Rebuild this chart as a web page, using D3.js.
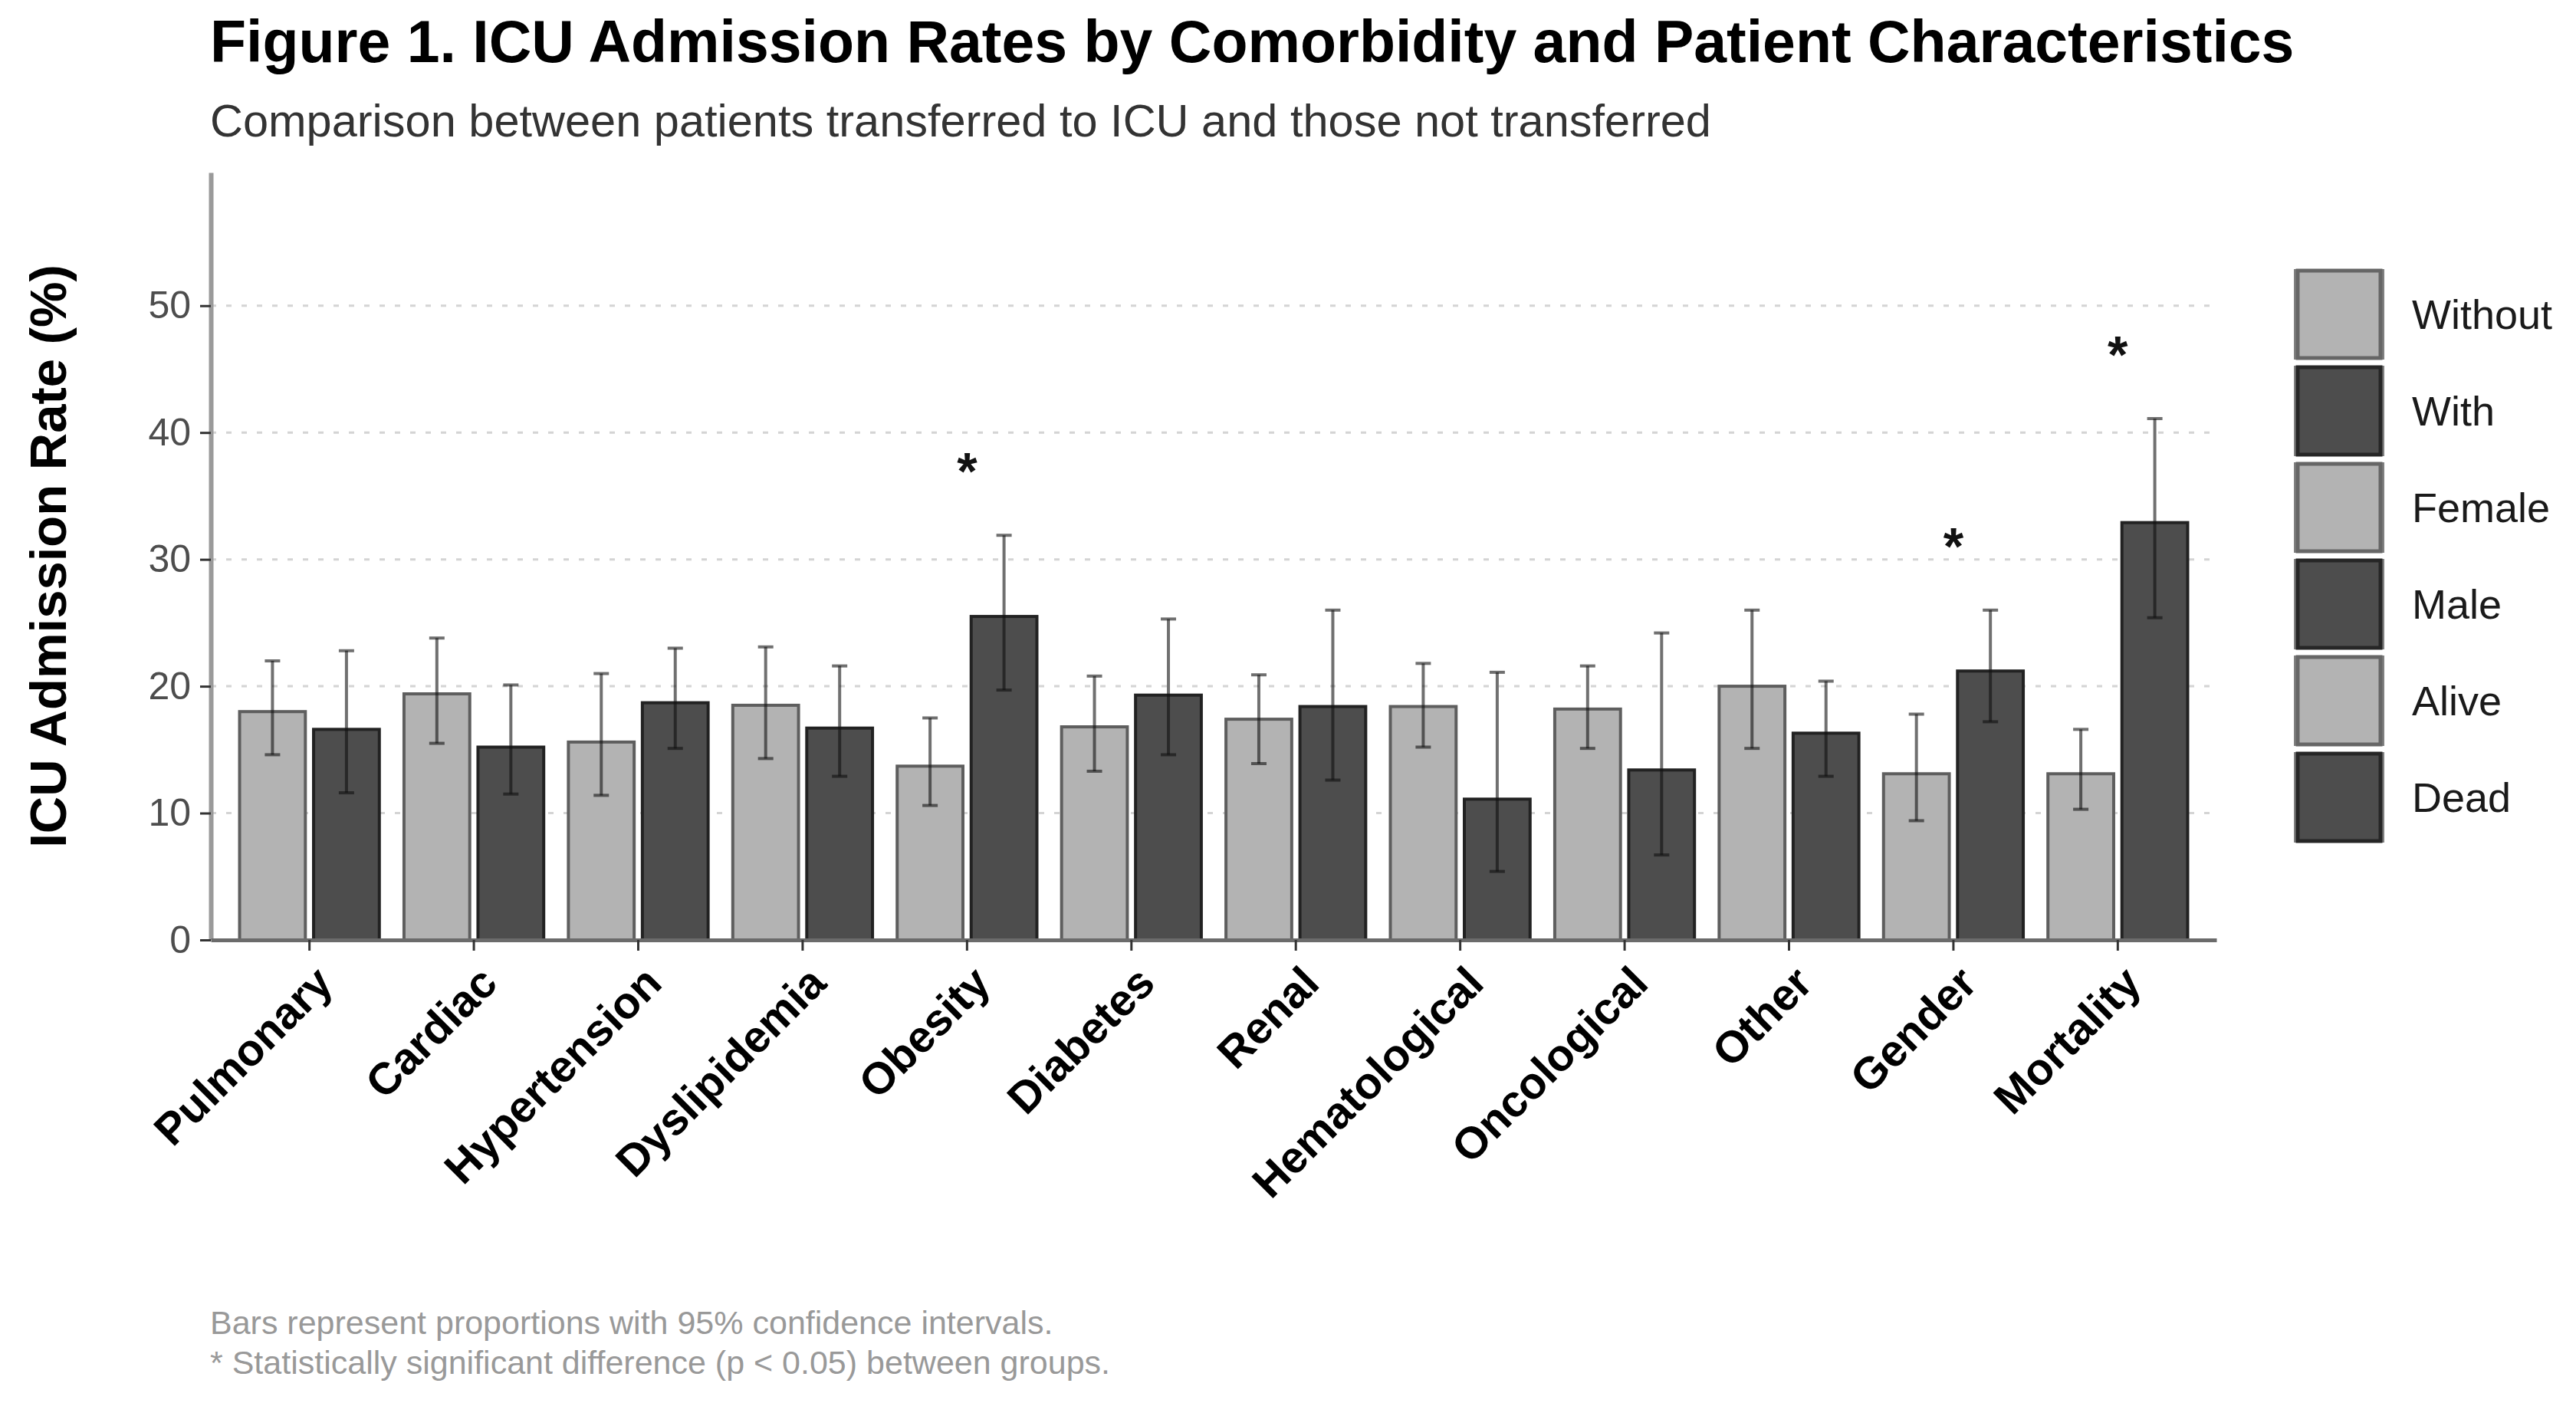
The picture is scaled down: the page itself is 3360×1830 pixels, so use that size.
<!DOCTYPE html>
<html>
<head>
<meta charset="utf-8">
<script src="https://cdn.jsdelivr.net/npm/d3@7"></script>
<style>
  html, body { margin: 0; padding: 0; background: #fff; }
  svg { display: block; }
  text { font-family: "Liberation Sans", Arial, sans-serif; }
</style>
</head>
<body>
<svg id="chart"></svg>
<script>
// categories on the x axis
const categories = ["Pulmonary", "Cardiac", "Hypertension", "Dyslipidemia", "Obesity", "Diabetes",
  "Renal", "Hematological", "Oncological", "Other", "Gender", "Mortality"];

// light bar (without / female / alive)
const firstRate  = [18.0, 19.4, 15.6, 18.5, 13.7, 16.8, 17.4, 18.4, 18.2, 20.0, 13.1, 13.1];
const firstLower = [14.6, 15.5, 11.4, 14.3, 10.6, 13.3, 13.9, 15.2, 15.1, 15.1,  9.4, 10.3];
const firstUpper = [22.0, 23.8, 21.0, 23.1, 17.5, 20.8, 20.9, 21.8, 21.6, 26.0, 17.8, 16.6];

// dark bar (with / male / dead)
const secondRate  = [16.6, 15.2, 18.7, 16.7, 25.5, 19.3, 18.4, 11.1, 13.4, 16.3, 21.2, 32.9];
const secondLower = [11.6, 11.5, 15.1, 12.9, 19.7, 14.6, 12.6,  5.4,  6.7, 12.9, 17.2, 25.4];
const secondUpper = [22.8, 20.1, 23.0, 21.6, 31.9, 25.3, 26.0, 21.1, 24.2, 20.4, 26.0, 41.1];

// significant differences (p < 0.05)
const significant = ["Obesity", "Gender", "Mortality"];
const starOffset = 5.9;

const legendLabels = ["Without", "With", "Female", "Male", "Alive", "Dead"];
const yTicks = [0, 10, 20, 30, 40, 50];

const width = 3360, height = 1830;
const plot = { left: 275, right: 2891, top: 225, bottom: 1226 };

const light = "#b3b3b3", dark = "#4d4d4d";

const svg = d3.select("#chart")
  .attr("width", width)
  .attr("height", height)
  .attr("viewBox", `0 0 ${width} ${height}`);

svg.append("rect").attr("width", width).attr("height", height).attr("fill", "#fff");

// scales
const x = d3.scaleBand()
  .domain(categories)
  .range([plot.left, plot.right])
  .paddingInner(0)
  .paddingOuter(0.1);

const bw = x.bandwidth();
const xSub = d3.scaleBand()
  .domain([0, 1])
  .range([-0.45 * bw, 0.45 * bw])
  .paddingInner(1 / 9)
  .paddingOuter(1 / 18);

const y = d3.scaleLinear()
  .domain([0, 60.5])
  .range([plot.bottom, plot.top]);

// dotted grid
svg.append("g")
  .selectAll("line")
  .data(yTicks.filter(d => d > 0))
  .enter()
  .append("line")
  .attr("x1", plot.left)
  .attr("x2", plot.right)
  .attr("y1", d => y(d))
  .attr("y2", d => y(d))
  .attr("stroke", "#d4d4d4")
  .attr("stroke-width", 3)
  .attr("stroke-dasharray", "7 13");

// rows for drawing
const rows = categories.map((c, i) => [
  { cat: c, g: 0, rate: firstRate[i], lo: firstLower[i], hi: firstUpper[i] },
  { cat: c, g: 1, rate: secondRate[i], lo: secondLower[i], hi: secondUpper[i] }
]).flat();

const cx = d => x(d.cat) + bw / 2 + xSub(d.g) + xSub.bandwidth() / 2;

// bars
svg.append("g")
  .selectAll("rect")
  .data(rows)
  .enter()
  .append("rect")
  .attr("x", d => x(d.cat) + bw / 2 + xSub(d.g))
  .attr("y", d => y(d.rate))
  .attr("width", xSub.bandwidth())
  .attr("height", d => y(0) - y(d.rate))
  .attr("fill", d => d.g === 0 ? light : dark)
  .attr("stroke", d => d.g === 0 ? "#5e5e5e" : "#222")
  .attr("stroke-width", 4);

// error bars
const eg = svg.append("g")
  .attr("stroke", "#111")
  .attr("stroke-opacity", 0.6)
  .attr("stroke-width", 4);

const capHalf = 10;
rows.forEach(d => {
  eg.append("line")
    .attr("x1", cx(d)).attr("x2", cx(d))
    .attr("y1", y(d.lo)).attr("y2", y(d.hi));
  [d.lo, d.hi].forEach(v => {
    eg.append("line")
      .attr("x1", cx(d) - capHalf).attr("x2", cx(d) + capHalf)
      .attr("y1", y(v)).attr("y2", y(v));
  });
});

// significance stars
svg.append("g")
  .selectAll("text")
  .data(categories.map((c, i) => ({ cat: c, top: Math.max(firstUpper[i], secondUpper[i]) }))
    .filter(d => significant.includes(d.cat)))
  .enter()
  .append("text")
  .attr("x", d => x(d.cat) + bw / 2)
  .attr("y", d => y(d.top + starOffset))
  .attr("dy", "0.55em")
  .attr("text-anchor", "middle")
  .attr("font-size", 68)
  .attr("font-weight", "bold")
  .attr("fill", "#111")
  .text("*");

// y axis
const yAxis = svg.append("g")
  .attr("transform", `translate(${plot.left},0)`)
  .call(d3.axisLeft(y).tickValues(yTicks).tickSize(14).tickSizeOuter(0).tickPadding(12));

yAxis.select(".domain")
  .attr("stroke", "#9a9a9a")
  .attr("stroke-width", 6);
yAxis.selectAll(".tick line").attr("stroke", "#333").attr("stroke-width", 3);
yAxis.selectAll(".tick text")
  .attr("font-size", 50)
  .attr("fill", "#4d4d4d")
  .attr("font-family", "'Liberation Sans', Arial, sans-serif");

// x axis
const xAxis = svg.append("g")
  .attr("transform", `translate(0,${plot.bottom})`)
  .call(d3.axisBottom(x).tickSize(14).tickSizeOuter(0).tickPadding(0));

xAxis.select(".domain")
  .attr("stroke", "#6b6b6b")
  .attr("stroke-width", 5);
xAxis.selectAll(".tick line").attr("stroke", "#333").attr("stroke-width", 3);
xAxis.selectAll(".tick text")
  .attr("font-size", 58)
  .attr("font-weight", "bold")
  .attr("fill", "#000")
  .attr("font-family", "'Liberation Sans', Arial, sans-serif")
  .attr("text-anchor", "end")
  .attr("y", 0)
  .attr("dy", "0.72em")
  .attr("transform", "translate(4,30) rotate(-45)");

// axis title
svg.append("text")
  .attr("transform", `translate(86,${(plot.top + plot.bottom) / 2}) rotate(-90)`)
  .attr("text-anchor", "middle")
  .attr("font-size", 67)
  .attr("font-weight", "bold")
  .attr("fill", "#000")
  .text("ICU Admission Rate (%)");

// legend
const keyH = 126, keyW = 118, legX = 2992, legY = 349;
const leg = svg.append("g");
legendLabels.forEach((lab, i) => {
  const yy = legY + i * keyH;
  const fill = i % 2 === 0 ? light : dark;
  leg.append("rect")
    .attr("x", legX).attr("y", yy + 2)
    .attr("width", keyW).attr("height", keyH - 8)
    .attr("fill", "#808080");
  leg.append("rect")
    .attr("x", legX + 5).attr("y", yy + 4)
    .attr("width", keyW - 10).attr("height", keyH - 12)
    .attr("fill", fill)
    .attr("stroke", i % 2 === 0 ? "#666" : "#262626")
    .attr("stroke-width", 5);
  leg.append("text")
    .attr("x", 3146)
    .attr("y", yy + keyH / 2 - 2)
    .attr("dy", "0.36em")
    .attr("font-size", 54)
    .attr("fill", "#1a1a1a")
    .text(lab);
});

// titles
svg.append("text")
  .attr("x", 274).attr("y", 81)
  .attr("font-size", 77)
  .attr("font-weight", "bold")
  .attr("fill", "#000")
  .text("Figure 1. ICU Admission Rates by Comorbidity and Patient Characteristics");

svg.append("text")
  .attr("x", 274).attr("y", 178)
  .attr("font-size", 59.5)
  .attr("fill", "#333")
  .text("Comparison between patients transferred to ICU and those not transferred");

// caption
svg.append("text")
  .attr("x", 274).attr("y", 1740)
  .attr("font-size", 43)
  .attr("fill", "#999")
  .text("Bars represent proportions with 95% confidence intervals.");
svg.append("text")
  .attr("x", 274).attr("y", 1792)
  .attr("font-size", 43)
  .attr("fill", "#999")
  .text("* Statistically significant difference (p < 0.05) between groups.");
</script>
</body>
</html>
